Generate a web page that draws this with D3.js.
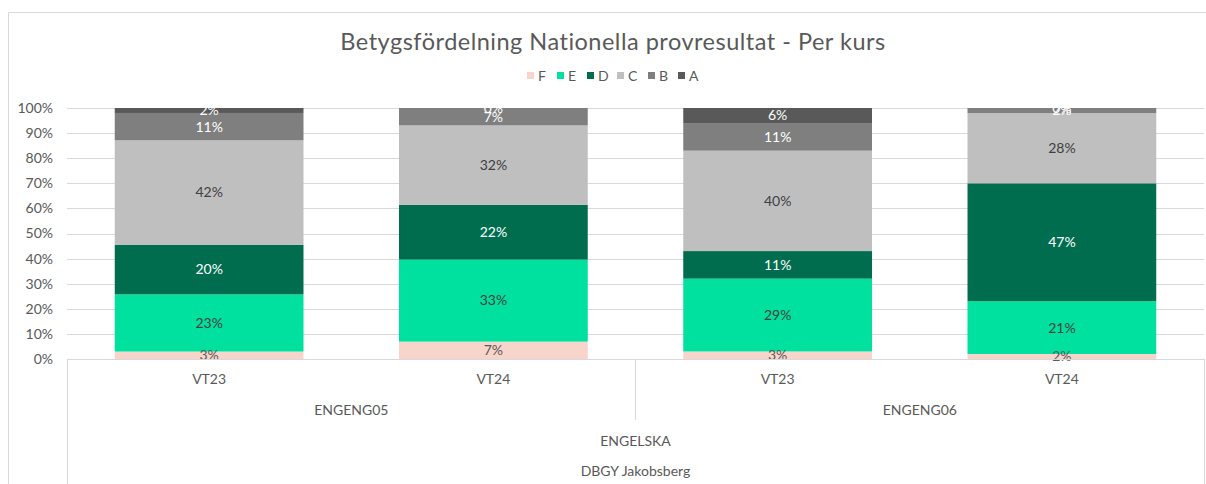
<!DOCTYPE html>
<html>
<head>
<meta charset="utf-8">
<script src="https://cdn.jsdelivr.net/npm/d3@7"></script>
<style>
  body { margin: 0; background: #fff; }
  svg text { font-family: "Century Gothic", Lato, "DejaVu Sans", sans-serif; }
</style>
</head>
<body>
<svg id="chart" width="1206" height="484"></svg>
<script>
// DATA
var terms = ['VT23', 'VT24', 'VT23', 'VT24'];
var courses = ['ENGENG05', 'ENGENG05', 'ENGENG06', 'ENGENG06'];
var subject = 'ENGELSKA';
var school = 'DBGY Jakobsberg';
var grades = ['F', 'E', 'D', 'C', 'B', 'A'];
var valF = [3, 7, 3, 2];
var valE = [23, 33, 29, 21];
var valD = [20, 22, 11, 47];
var valC = [42, 32, 40, 28];
var valB = [11, 7, 11, 2];
var valA = [2, 0, 6, 0];
var yTicks = [0, 0.1, 0.2, 0.3, 0.4, 0.5, 0.6, 0.7, 0.8, 0.9, 1];

var colors = { F: '#F8D5CB', E: '#00E09E', D: '#006E4E', C: '#BFBFBF', B: '#7F7F7F', A: '#595959' };
var labelColors = { F: '#595959', E: '#404040', D: '#ffffff', C: '#404040', B: '#ffffff', A: '#ffffff' };

var series = { F: valF, E: valE, D: valD, C: valC, B: valB, A: valA };
var rows = terms.map(function(t, i) {
    var r = { key: i, term: t, course: courses[i] };
    grades.forEach(function(g) { r[g] = series[g][i]; });
    return r;
});

var svg = d3.select('#chart');
var plotL = 67, plotR = 1204, plotT = 108, plotB = 359;
var fs = '14px';

// chart border (partly outside the picture)
svg.append('path')
    .attr('d', 'M8.5,484 V12.5 H1206')
    .attr('fill', 'none').attr('stroke', '#D9D9D9').attr('stroke-width', 1);

// TITLE
svg.append('text')
    .attr('x', 613).attr('y', 50)
    .attr('text-anchor', 'middle')
    .style('font-size', '23.5px')
    .style('letter-spacing', '0.5px')
    .style('fill', '#595959')
    .text('Betygsfördelning Nationella provresultat - Per kurs');

// SCALES
var x = d3.scaleBand().domain(rows.map(function(d) { return d.key; }))
    .range([plotL, plotR]).paddingInner(0.336).paddingOuter(0.168);
var y = d3.scaleLinear().domain([0, 1]).range([plotB, plotT]);

// GRIDLINES + Y AXIS
var yAxis = d3.axisLeft(y).tickValues(yTicks).tickFormat(d3.format('.0%'))
    .tickSize(-(plotR - plotL)).tickPadding(14);
var gy = svg.append('g').attr('transform', 'translate(' + plotL + ',0)').call(yAxis);
gy.select('.domain').remove();
gy.selectAll('.tick line').attr('stroke', '#D9D9D9').attr('shape-rendering', 'crispEdges');
gy.selectAll('.tick text').style('font-size', fs).style('fill', '#595959');

// STACKED BARS
var stack = d3.stack().keys(grades).offset(d3.stackOffsetExpand);
var layers = stack(rows);

var gLayers = svg.append('g').selectAll('g').data(layers).enter().append('g')
    .attr('fill', function(d) { return colors[d.key]; });
gLayers.selectAll('rect').data(function(d) { return d; }).enter().append('rect')
    .attr('x', function(d) { return x(d.data.key); })
    .attr('width', x.bandwidth())
    .attr('y', function(d) { return y(d[1]); })
    .attr('height', function(d) { return y(d[0]) - y(d[1]); });

// DATA LABELS
layers.forEach(function(layer) {
    svg.append('g').selectAll('text').data(layer).enter().append('text')
        .attr('x', function(d) { return x(d.data.key) + x.bandwidth() / 2; })
        .attr('y', function(d) { return y((d[0] + d[1]) / 2); })
        .attr('dy', '0.35em')
        .attr('text-anchor', 'middle')
        .style('font-size', fs)
        .style('fill', labelColors[layer.key])
        .text(function(d) { return d.data[layer.key] + '%'; });
});

// CATEGORY AXIS (multi-level)
var ga = svg.append('g').attr('stroke', '#D9D9D9').attr('shape-rendering', 'crispEdges');
ga.append('line').attr('x1', plotL).attr('x2', plotR).attr('y1', plotB).attr('y2', plotB);
ga.append('line').attr('x1', plotL).attr('x2', plotL).attr('y1', plotB).attr('y2', 484);
ga.append('line').attr('x1', plotR).attr('x2', plotR).attr('y1', plotB).attr('y2', 484);

var courseNames = Array.from(new Set(courses));
var courseSpans = courseNames.map(function(c) {
    var ks = rows.filter(function(r) { return r.course === c; }).map(function(r) { return r.key; });
    var x0 = x(ks[0]) - x.step() * x.paddingInner() / 2;
    var x1 = x(ks[ks.length - 1]) + x.bandwidth() + x.step() * x.paddingInner() / 2;
    return { name: c, x0: x0, x1: x1 };
});
courseSpans.slice(1).forEach(function(s) {
    ga.append('line').attr('x1', s.x0).attr('x2', s.x0).attr('y1', plotB).attr('y2', 420);
});

var labelStyle = function(sel) {
    sel.attr('text-anchor', 'middle').style('font-size', fs).style('fill', '#595959');
};
svg.append('g').selectAll('text').data(rows).enter().append('text')
    .attr('x', function(d) { return x(d.key) + x.bandwidth() / 2; })
    .attr('y', 384)
    .call(labelStyle)
    .text(function(d) { return d.term; });
svg.append('g').selectAll('text').data(courseSpans).enter().append('text')
    .attr('x', function(d) { return (d.x0 + d.x1) / 2; })
    .attr('y', 415)
    .call(labelStyle)
    .text(function(d) { return d.name; });
svg.append('text').attr('x', (plotL + plotR) / 2).attr('y', 446).call(labelStyle).text(subject);
svg.append('text').attr('x', (plotL + plotR) / 2).attr('y', 476).call(labelStyle).text(school);

// LEGEND
var legendX = [527, 557, 587, 617, 648, 678];
var gl = svg.append('g').selectAll('g').data(grades).enter().append('g')
    .attr('transform', function(d, i) { return 'translate(' + legendX[i] + ',76)'; });
gl.append('rect').attr('x', 0).attr('y', -4).attr('width', 7).attr('height', 7)
    .attr('fill', function(d) { return colors[d]; });
gl.append('text').attr('x', 11).attr('y', 0).attr('dy', '0.35em')
    .style('font-size', fs).style('fill', '#595959')
    .text(function(d) { return d; });
</script>
</body>
</html>
